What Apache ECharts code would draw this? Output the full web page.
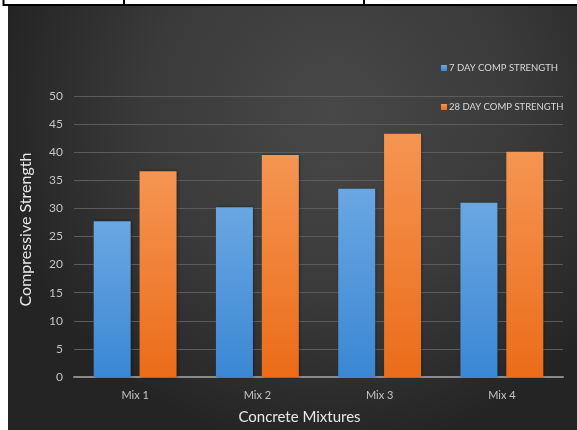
<!DOCTYPE html>
<html><head><meta charset="utf-8">
<script src="https://cdn.jsdelivr.net/npm/echarts@6/dist/echarts.min.js"></script>
<style>html,body{margin:0;padding:0;background:#fff;}#c{width:577px;height:430px;}</style>
</head><body><div id="c"></div>
<script>
var categories = ['Mix 1', 'Mix 2', 'Mix 3', 'Mix 4'];
var day7 = [27.7, 30.2, 33.5, 31.0];
var day28 = [36.6, 39.5, 43.3, 40.1];
var seriesNames = ['7 DAY COMP STRENGTH', '28 DAY COMP STRENGTH'];
var yTicks = { min: 0, max: 50, interval: 5 };

var chart = echarts.init(document.getElementById('c'), null, { renderer: 'canvas' });
var FONT = 'Lato, "Open Sans", sans-serif';
function grad(top, bottom) {
  return new echarts.graphic.LinearGradient(0, 0, 0, 1, [
    { offset: 0, color: top }, { offset: 1, color: bottom }
  ]);
}
chart.setOption({
  backgroundColor: '#ffffff',
  animation: false,
  graphic: [
    { type: 'rect', z: -10, silent: true, shape: { x: 8, y: 6, width: 569, height: 424 },
      style: { fill: new echarts.graphic.RadialGradient(0.57, 0.25, 0.8, [
        { offset: 0, color: '#484848' }, { offset: 0.55, color: '#3a3a3a' }, { offset: 1, color: '#242424' }]) } },
    { type: 'line', silent: true, shape: { x1: 3, y1: 5, x2: 577, y2: 5 }, style: { stroke: '#000', lineWidth: 2 } },
    { type: 'line', silent: true, shape: { x1: 3.5, y1: 0, x2: 3.5, y2: 6 }, style: { stroke: '#000', lineWidth: 2 } },
    { type: 'line', silent: true, shape: { x1: 124, y1: 0, x2: 124, y2: 5 }, style: { stroke: '#000', lineWidth: 2 } },
    { type: 'line', silent: true, shape: { x1: 364, y1: 0, x2: 364, y2: 5 }, style: { stroke: '#000', lineWidth: 2 } }
  ],
  legend: {
    orient: 'vertical', left: 436, top: 57,
    itemWidth: 6, itemHeight: 6, itemGap: 27,
    icon: 'rect',
    textStyle: { color: '#d9d9d9', fontSize: 9.5, fontFamily: FONT, lineHeight: 12, padding: [0, 0, 0, -3] },
    data: seriesNames
  },
  grid: { left: 74, right: 14, top: 96, bottom: 48, containLabel: false },
  xAxis: {
    type: 'category', data: categories,
    axisLine: { lineStyle: { color: '#8a8a8a', width: 2 } },
    axisTick: { show: false },
    axisLabel: { color: '#c4c4c4', fontSize: 11, fontFamily: FONT, margin: 13 },
    name: 'Concrete Mixtures', nameLocation: 'middle', nameGap: 33,
    nameTextStyle: { color: '#e8e8e8', fontSize: 15, fontFamily: FONT, padding: [0, 38, 0, 0] }
  },
  yAxis: {
    type: 'value', min: yTicks.min, max: yTicks.max, interval: yTicks.interval,
    axisLine: { show: false }, axisTick: { show: false },
    splitLine: { lineStyle: { color: '#5c5c5c', width: 1 } },
    axisLabel: { color: '#c4c4c4', fontSize: 12, fontFamily: FONT, margin: 11 },
    name: 'Compressive Strength', nameLocation: 'middle', nameGap: 40, nameRotate: 90,
    nameTextStyle: { color: '#e8e8e8', fontSize: 16, fontFamily: FONT, padding: [0, 0, 0, 14] }
  },
  series: [
    { name: seriesNames[0], type: 'bar', data: day7, barWidth: 37, barGap: '24%',
      itemStyle: { color: grad('#6aa7e2', '#3b87d4'), shadowColor: 'rgba(0,0,0,0.45)', shadowBlur: 3, shadowOffsetX: 1 } },
    { name: seriesNames[1], type: 'bar', data: day28, barWidth: 37,
      itemStyle: { color: grad('#f59552', '#eb6c19'), shadowColor: 'rgba(0,0,0,0.45)', shadowBlur: 3, shadowOffsetX: 1 } }
  ]
});
</script></body></html>
